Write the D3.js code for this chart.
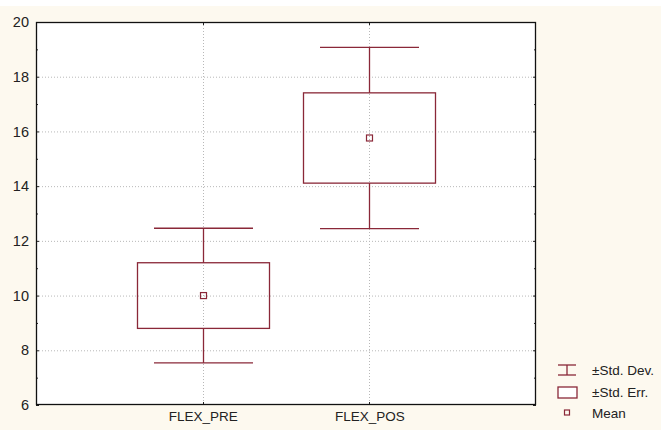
<!DOCTYPE html>
<html><head><meta charset="utf-8">
<script src="https://cdn.jsdelivr.net/npm/d3@7"></script>
<style>body{margin:0;background:#fff}svg{display:block}</style>
</head><body>
<script>
const categories = ["FLEX_PRE", "FLEX_POS"];
const means = [10.0, 15.76];
const stdErr = [1.2, 1.65];
const stdDev = [2.46, 3.31];
const yTicks = [6, 8, 10, 12, 14, 16, 18, 20];
const legendLabels = ["±Std. Dev.", "±Std. Err.", "Mean"];

const W = 661, H = 430;
const col = "#8a2838";
const svg = d3.select("body").append("svg").attr("width", W).attr("height", H)
  .style("font-family", "'Liberation Sans', Arial, sans-serif");

svg.append("rect").attr("x", 0).attr("y", 6).attr("width", W).attr("height", H - 6).attr("fill", "#fdf9ef");

const L = 36, R = 536, T = 22, B = 405;
const x = d3.scalePoint().domain(categories).range([L, R]).padding(1);
const y = d3.scaleLinear().domain([6, 20]).range([B, T]);

svg.append("rect").attr("x", L).attr("y", T).attr("width", R - L).attr("height", B - T).attr("fill", "#fff");

// grid
svg.append("g").selectAll("line").data(yTicks.filter(v => v > 6 && v < 20)).join("line")
  .attr("x1", L).attr("x2", R).attr("y1", d => y(d) + 0.5).attr("y2", d => y(d) + 0.5)
  .attr("stroke", "#b8b8b8").attr("stroke-dasharray", "1,2");
svg.append("g").selectAll("line").data(categories).join("line")
  .attr("x1", d => Math.round(x(d)) + 0.5).attr("x2", d => Math.round(x(d)) + 0.5).attr("y1", T).attr("y2", B)
  .attr("stroke", "#b8b8b8").attr("stroke-dasharray", "1,2");

// axes
const yAxis = d3.axisLeft(y).tickValues(yTicks).tickSize(0).tickPadding(7);
const gy = svg.append("g").attr("transform", `translate(${L},0)`).call(yAxis);
gy.select(".domain").remove();
gy.selectAll("text").attr("font-size", 14.5).attr("fill", "#222").attr("font-family", "'Liberation Sans', Arial, sans-serif");

const xAxis = d3.axisBottom(x).tickSize(0).tickPadding(6);
const gx = svg.append("g").attr("transform", `translate(0,${B})`).call(xAxis);
gx.select(".domain").remove();
gx.selectAll("text").attr("font-size", 13.5).attr("fill", "#222").attr("font-family", "'Liberation Sans', Arial, sans-serif");

// inward ticks
const minor = d3.range(7, 20, 2);
const tk = svg.append("g").attr("stroke", "#222");
yTicks.forEach(v => {
  tk.append("line").attr("x1", L).attr("x2", L + 3).attr("y1", y(v) + 0.5).attr("y2", y(v) + 0.5);
  tk.append("line").attr("x1", R - 3).attr("x2", R).attr("y1", y(v) + 0.5).attr("y2", y(v) + 0.5);
});
minor.forEach(v => {
  tk.append("line").attr("x1", L).attr("x2", L + 2).attr("y1", y(v) + 0.5).attr("y2", y(v) + 0.5);
  tk.append("line").attr("x1", R - 2).attr("x2", R).attr("y1", y(v) + 0.5).attr("y2", y(v) + 0.5);
});
categories.forEach(c => {
  const xc = Math.round(x(c)) + 0.5;
  tk.append("line").attr("x1", xc).attr("x2", xc).attr("y1", T).attr("y2", T + 3);
  tk.append("line").attr("x1", xc).attr("x2", xc).attr("y1", B - 3).attr("y2", B);
});
svg.append("rect").attr("x", L + 0.5).attr("y", T + 0.5).attr("width", R - L - 1).attr("height", B - T - 1)
  .attr("fill", "none").attr("stroke", "#111").attr("stroke-width", 1.3);

// boxes
const boxW = 132, capW = 99;
const g = svg.append("g").attr("stroke", col).attr("fill", "none").attr("stroke-width", 1.3);
categories.forEach((c, i) => {
  const xc = Math.round(x(c)) + 0.5;
  const m = means[i], se = stdErr[i], sd = stdDev[i];
  g.append("line").attr("x1", xc).attr("x2", xc).attr("y1", y(m + sd)).attr("y2", y(m + se));
  g.append("line").attr("x1", xc).attr("x2", xc).attr("y1", y(m - se)).attr("y2", y(m - sd));
  g.append("line").attr("x1", xc - capW / 2).attr("x2", xc + capW / 2).attr("y1", y(m + sd)).attr("y2", y(m + sd));
  g.append("line").attr("x1", xc - capW / 2).attr("x2", xc + capW / 2).attr("y1", y(m - sd)).attr("y2", y(m - sd));
  g.append("rect").attr("x", xc - boxW / 2).attr("y", y(m + se)).attr("width", boxW).attr("height", y(m - se) - y(m + se));
  g.append("rect").attr("x", xc - 3).attr("y", y(m) - 3).attr("width", 6).attr("height", 6).attr("stroke-width", 1.2);
});

// legend
const lg = svg.append("g");
const lx = 558, ly = [370, 392, 413];
lg.append("line").attr("x1", lx).attr("x2", lx + 18).attr("y1", ly[0] - 5).attr("y2", ly[0] - 5).attr("stroke", col).attr("stroke-width", 1.3);
lg.append("line").attr("x1", lx).attr("x2", lx + 18).attr("y1", ly[0] + 5).attr("y2", ly[0] + 5).attr("stroke", col).attr("stroke-width", 1.3);
lg.append("line").attr("x1", lx + 9).attr("x2", lx + 9).attr("y1", ly[0] - 5).attr("y2", ly[0] + 5).attr("stroke", col).attr("stroke-width", 1.3);
lg.append("rect").attr("x", lx).attr("y", ly[1] - 5).attr("width", 19).attr("height", 11).attr("fill", "#fff").attr("stroke", col).attr("stroke-width", 1.3);
lg.append("rect").attr("x", lx + 6.5).attr("y", ly[2] - 3).attr("width", 5).attr("height", 5).attr("fill", "none").attr("stroke", col).attr("stroke-width", 1.2);
lg.selectAll("text").data(legendLabels).join("text")
  .attr("x", 592).attr("y", (d, i) => ly[i]).attr("dy", "0.35em")
  .attr("font-size", 13.5).attr("fill", "#222").text(d => d);
</script>
</body></html>
